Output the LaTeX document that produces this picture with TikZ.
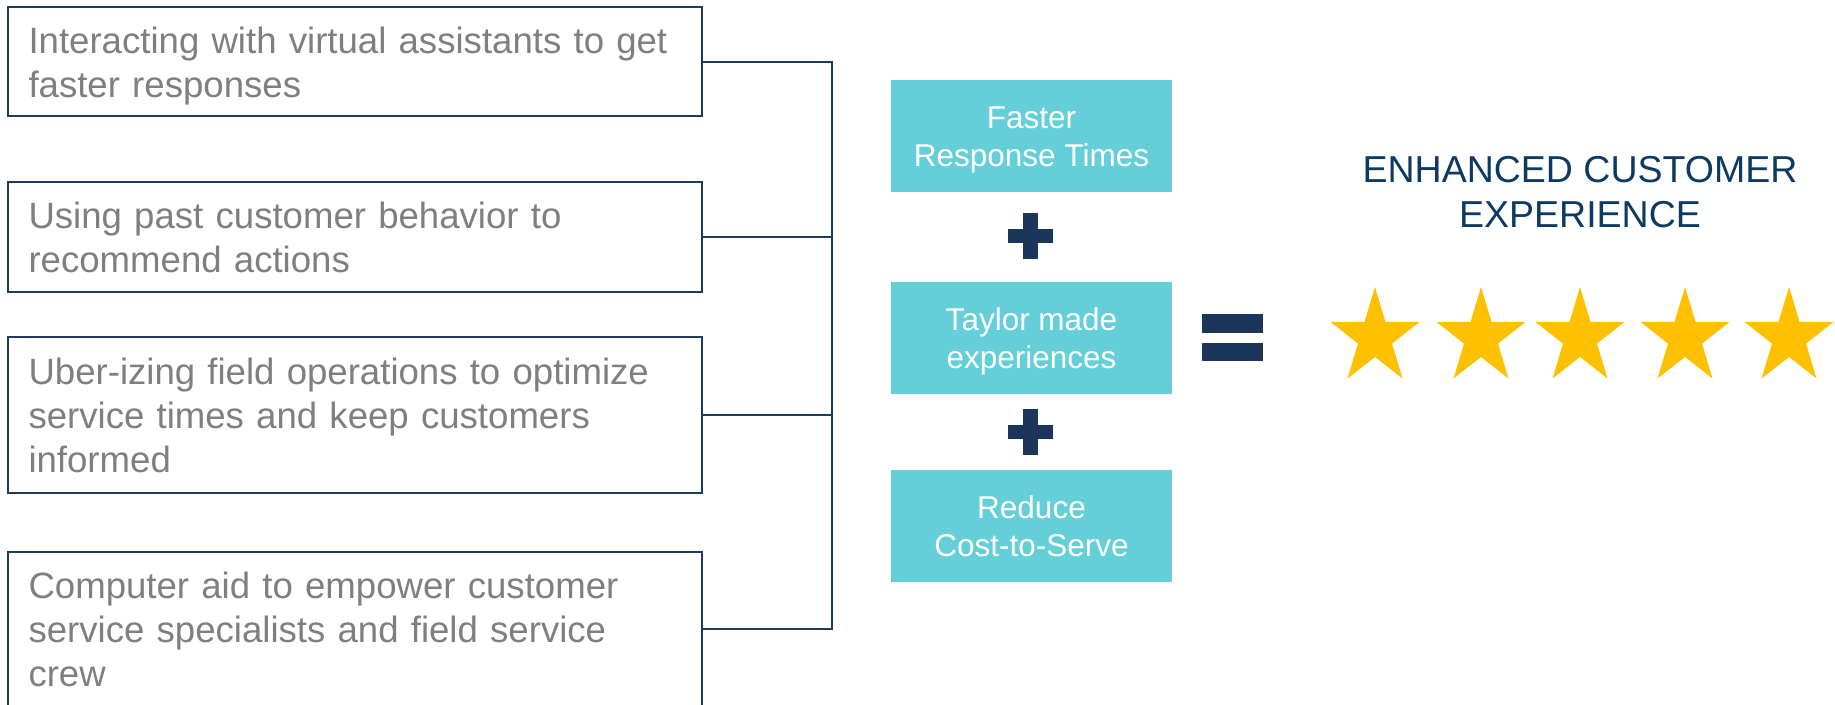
\documentclass[tikz,border=0pt]{standalone}
\usepackage{fontspec}
\setmainfont{Liberation Sans}
\definecolor{navyline}{HTML}{203A5E}
\definecolor{navyfill}{HTML}{1B355B}
\definecolor{graytext}{HTML}{7F7F7F}
\definecolor{tealc}{HTML}{64CFD9}
\definecolor{titlec}{HTML}{0C3A62}
\definecolor{starc}{HTML}{FFC000}
\begin{document}
\begin{tikzpicture}[x=1pt,y=-1pt,
  lbox/.style={draw=navyline, line width=2pt, fill=white, inner xsep=20.5pt, inner ysep=0pt,
    text width=653pt, align=left, text=graytext, font=\fontsize{36.6}{44}\selectfont,
    text height=27pt, text depth=#1},
  tbox/.style={fill=tealc, minimum width=281pt, minimum height=112pt, inner sep=0pt,
    align=center, text=white, font=\fontsize{31.5}{38}\selectfont,
    text height=61pt, text depth=0pt},
  conn/.style={draw=navyline, line width=2pt},
  ttlstyle/.style={align=center, text=titlec, font=\fontsize{37.5}{45}\selectfont,
    inner sep=0pt, text height=72pt, text depth=0pt},
  sym/.style={fill=navyfill}
]
\useasboundingbox (0,0) rectangle (1835,704);

% left boxes
\node[lbox=44pt, minimum height=109pt] (b1) at (355,61.5)
  {Interacting with virtual assistants to get\\faster responses};
\node[lbox=44pt, minimum height=110pt] (b2) at (355,237)
  {Using past customer behavior to\\recommend actions};
\node[lbox=88pt, minimum height=156pt] (b3) at (355,415)
  {Uber-izing field operations to optimize\\service times and keep customers\\informed};
\node[lbox=88pt, minimum height=154pt] (b4) at (355,629)
  {Computer aid to empower customer\\service specialists and field service\\crew};

% connectors
\coordinate (bus) at (832,0);
\draw[conn] (b1.east) -- (b1.east -| bus) -- (b4.east -| bus) -- (b4.east);
\draw[conn] (b2.east) -- (b2.east -| bus);
\draw[conn] (b3.east) -- (b3.east -| bus);

% teal boxes
\node[tbox] (t1) at (1031.5,136) {Faster\\Response Times};
\node[tbox] (t2) at (1031.5,337.5) {Taylor made\\experiences};
\node[tbox] (t3) at (1031.5,526) {Reduce\\Cost-to-Serve};

% plus signs
\fill[sym] (1008,229) rectangle (1053,243);
\fill[sym] (1023,213) rectangle (1038,259);
\fill[sym] (1008,425) rectangle (1053,439);
\fill[sym] (1023,409) rectangle (1038,455);

% equals sign
\fill[sym] (1202,314) rectangle (1263,333);
\fill[sym] (1202,343) rectangle (1263,361);

% title
\node[ttlstyle] (ttl) at (1580,191) {ENHANCED CUSTOMER\\EXPERIENCE};

% stars
\foreach \cx in {1375,1481,1580,1685,1789}{
  \fill[starc, shift={(\cx,337.6)}]
    (0,-50.6) -- (10.51,-15.64) -- (44.51,-15.64) -- (17.01,5.97) -- (27.51,40.94)
    -- (0,19.33) -- (-27.51,40.94) -- (-17.01,5.97) -- (-44.51,-15.64) -- (-10.51,-15.64) -- cycle;
}
\end{tikzpicture}
\end{document}
